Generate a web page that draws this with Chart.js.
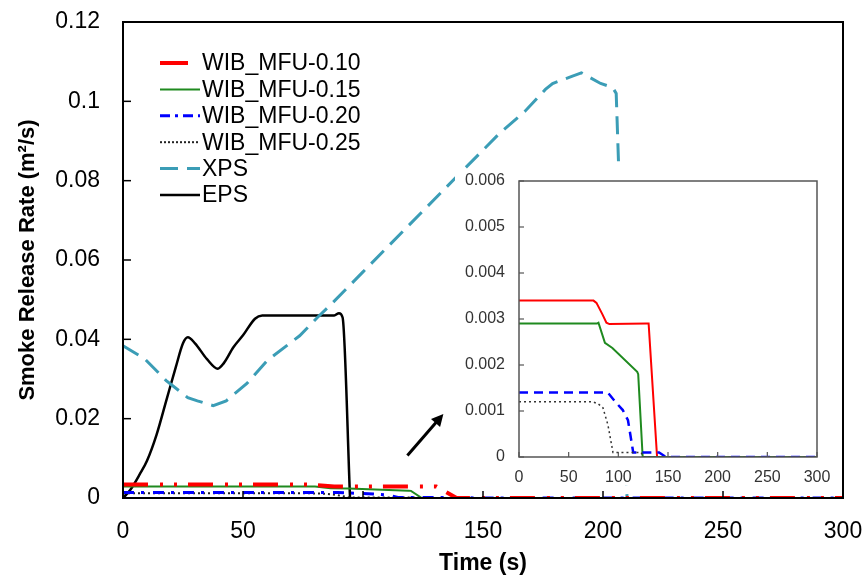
<!DOCTYPE html>
<html>
<head>
<meta charset="utf-8">
<script src="https://cdn.jsdelivr.net/npm/chart.js@4.4.0/dist/chart.umd.min.js"></script>
<style>
body { margin: 0; background: #fff; }
#wrap { position: relative; width: 867px; height: 577px; }
#main { position: absolute; left: 0; top: 0; }
#inset { position: absolute; left: 455px; top: 170px; background: #fff; }
</style>
</head>
<body>
<div id="wrap">
<canvas id="main" width="867" height="577"></canvas>
<canvas id="inset" width="380" height="315"></canvas>
</div>
<script>
// series names
const seriesNames = ['WIB_MFU-0.10', 'WIB_MFU-0.15', 'WIB_MFU-0.20', 'WIB_MFU-0.25', 'XPS', 'EPS'];

// time (s) and smoke release rate (m2/s)
const timeMfu10 = [0, 75, 78, 84, 88, 91, 129, 130.5, 139, 300];
const srrMfu10 = [0.0034, 0.0034, 0.00335, 0.0031, 0.00292, 0.00289, 0.0029, 0.0029, 0, 0];

const timeMfu15 = [0, 78.5, 80, 86.5, 94, 119, 120, 124.5, 300];
const srrMfu15 = [0.0029, 0.0029, 0.00292, 0.00248, 0.00237, 0.00185, 0.0018, 0, 0];

const timeMfu20 = [0, 89.5, 97, 104.5, 109.7, 115, 141, 148, 300];
const srrMfu20 = [0.0014, 0.0014, 0.0012, 0.00102, 0.0008, 0.0001, 0.0001, 0, 0];

const timeMfu25 = [0, 74.5, 80, 84.5, 89.5, 94.6, 123, 125, 300];
const srrMfu25 = [0.0012, 0.0012, 0.00115, 0.00107, 0.0007, 0.0001, 0.0001, 0, 0];

const timeXps = [0, 9, 18, 27, 31, 37.6, 43, 51.5, 60, 73.6, 81, 86, 100, 120, 140, 157, 167.5, 176, 179, 187, 191, 199, 204, 205.5, 206.5, 210];
const srrXps = [0.0384, 0.0351, 0.0296, 0.0253, 0.0245, 0.0233, 0.0245, 0.0288, 0.0346, 0.0409, 0.0455, 0.0484, 0.057, 0.0693, 0.0816, 0.092, 0.0975, 0.103, 0.1045, 0.1063, 0.1072, 0.1045, 0.1035, 0.102, 0.084, 0];

const timeEps = [0, 3, 7, 10, 14, 18, 22, 25, 27, 30, 35, 39.5, 42, 46, 50, 55, 58, 88, 90, 91.5, 94.6];
const srrEps = [0, 0.002, 0.006, 0.0094, 0.016, 0.0245, 0.033, 0.039, 0.0405, 0.039, 0.035, 0.0326, 0.034, 0.038, 0.041, 0.0452, 0.046, 0.046, 0.0466, 0.0455, 0];

// tick labels
const mainXTicks = [0, 50, 100, 150, 200, 250, 300];
const mainYTicks = [0, 0.02, 0.04, 0.06, 0.08, 0.1, 0.12];
const insetXTicks = [0, 50, 100, 150, 200, 250, 300];
const insetYTicks = [0, 0.001, 0.002, 0.003, 0.004, 0.005, 0.006];

function pts(t, v) {
    return t.map(function (x, i) { return { x: x, y: v[i] }; });
}

const RED = '#ff0000', GREEN = '#1f8a1f', BLUE = '#0000ff', TEAL = '#3b9db6';
const FONT = 'Arial, "Liberation Sans", sans-serif';

// grid used only to push tick labels away from the axis (ticks drawn by plugin)
function spacerGrid(len) {
    return { display: true, drawOnChartArea: false, drawTicks: true, tickLength: len, color: 'rgba(0,0,0,0)' };
}

var mainData = {
    datasets: [
        { label: seriesNames[0], data: pts(timeMfu10, srrMfu10), borderColor: RED, borderWidth: 4, borderDash: [25, 12, 3, 11, 3, 11] },
        { label: seriesNames[1], data: pts(timeMfu15, srrMfu15), borderColor: GREEN, borderWidth: 2 },
        { label: seriesNames[2], data: pts(timeMfu20, srrMfu20), borderColor: BLUE, borderWidth: 3, borderDash: [11, 7, 3, 9] },
        { label: seriesNames[3], data: pts(timeMfu25, srrMfu25), borderColor: '#222', borderWidth: 2, borderDash: [2, 3] },
        { label: seriesNames[4], data: pts(timeXps, srrXps), borderColor: TEAL, borderWidth: 3, borderDash: [18, 9] },
        { label: seriesNames[5], data: pts(timeEps, srrEps), borderColor: '#000', borderWidth: 2.5, cubicInterpolationMode: 'monotone' }
    ]
};

// legend, arrow, frame and inward ticks for the main plot
var mainDecor = {
    id: 'mainDecor',
    afterDraw: function (chart) {
        var ctx = chart.ctx, a = chart.chartArea;
        var sx = chart.scales.x, sy = chart.scales.y;
        ctx.save();
        ctx.strokeStyle = '#000';
        ctx.lineWidth = 1.5;
        mainXTicks.forEach(function (v) {
            var px = sx.getPixelForValue(v);
            ctx.beginPath(); ctx.moveTo(px, a.bottom); ctx.lineTo(px, a.bottom - 7); ctx.stroke();
        });
        mainYTicks.forEach(function (v) {
            var py = sy.getPixelForValue(v);
            ctx.beginPath(); ctx.moveTo(a.left, py); ctx.lineTo(a.left + 8, py); ctx.stroke();
        });
        ctx.lineWidth = 2;
        ctx.strokeRect(a.left, a.top, a.right - a.left, a.bottom - a.top);

        // arrow pointing at the inset
        var x0 = sx.getPixelForValue(118.5), y0 = sy.getPixelForValue(0.0107);
        var x1 = sx.getPixelForValue(133.5), y1 = sy.getPixelForValue(0.0212);
        var ang = Math.atan2(y1 - y0, x1 - x0);
        ctx.lineWidth = 3;
        ctx.beginPath(); ctx.moveTo(x0, y0);
        ctx.lineTo(x1 - 6 * Math.cos(ang), y1 - 6 * Math.sin(ang)); ctx.stroke();
        ctx.fillStyle = '#000';
        ctx.beginPath();
        ctx.moveTo(x1, y1);
        ctx.lineTo(x1 - 12 * Math.cos(ang) + 6 * Math.sin(ang), y1 - 12 * Math.sin(ang) - 6 * Math.cos(ang));
        ctx.lineTo(x1 - 12 * Math.cos(ang) - 6 * Math.sin(ang), y1 - 12 * Math.sin(ang) + 6 * Math.cos(ang));
        ctx.closePath(); ctx.fill();

        // legend
        var items = [
            { c: RED, w: 4, d: [], x0: 160, x1: 188 },
            { c: GREEN, w: 2, d: [], x0: 160, x1: 200 },
            { c: BLUE, w: 3, d: [10, 5, 3, 5], x0: 160, x1: 200 },
            { c: '#222', w: 2, d: [2, 2], x0: 160, x1: 199 },
            { c: TEAL, w: 3, d: [18, 9], x0: 160, x1: 200 },
            { c: '#000', w: 2.5, d: [], x0: 160, x1: 200 }
        ];
        ctx.font = '23px ' + FONT;
        ctx.textBaseline = 'middle';
        ctx.textAlign = 'left';
        items.forEach(function (it, i) {
            var y = 63 + i * 26.4;
            ctx.setLineDash(it.d);
            ctx.strokeStyle = it.c;
            ctx.lineWidth = it.w;
            ctx.beginPath(); ctx.moveTo(it.x0, y); ctx.lineTo(it.x1, y); ctx.stroke();
            ctx.setLineDash([]);
            ctx.fillStyle = '#000';
            ctx.fillText(seriesNames[i], 202, y + 1);
        });
        ctx.restore();
    }
};

new Chart(document.getElementById('main'), {
    type: 'line',
    data: mainData,
    options: {
        responsive: false,
        animation: false,
        layout: { padding: { top: 22, right: 24, left: 0, bottom: 0 } },
        elements: { point: { radius: 0 }, line: { tension: 0 } },
        plugins: { legend: { display: false }, tooltip: { enabled: false } },
        scales: {
            x: {
                type: 'linear', min: 0, max: 300,
                grid: spacerGrid(20),
                border: { display: false },
                ticks: { stepSize: 50, padding: 0, color: '#000', font: { family: FONT, size: 23 } },
                title: { display: true, text: 'Time (s)', color: '#000', font: { family: FONT, size: 23, weight: 'bold' }, padding: { top: 0, bottom: 0 } },
                afterFit: function (s) { s.height = 79; }
            },
            y: {
                min: 0, max: 0.12,
                grid: spacerGrid(23),
                border: { display: false },
                ticks: {
                    stepSize: 0.02, padding: 0, color: '#000', font: { family: FONT, size: 23 },
                    callback: function (v) { return String(Math.round(v * 100) / 100); }
                },
                title: { display: true, text: 'Smoke Release Rate (m\u00b2/s)', color: '#000', font: { family: FONT, size: 22, weight: 'bold' }, padding: { top: 15, bottom: 0 } },
                afterFit: function (s) { s.width = 123; }
            }
        }
    },
    plugins: [mainDecor]
});

// ---------- inset ----------
var insetDecor = {
    id: 'insetDecor',
    afterDraw: function (chart) {
        var ctx = chart.ctx, a = chart.chartArea;
        var sx = chart.scales.x, sy = chart.scales.y;
        ctx.save();
        ctx.strokeStyle = '#555';
        ctx.lineWidth = 1.2;
        insetXTicks.forEach(function (v) {
            var px = sx.getPixelForValue(v);
            ctx.beginPath(); ctx.moveTo(px, a.bottom); ctx.lineTo(px, a.bottom - 5); ctx.stroke();
        });
        insetYTicks.forEach(function (v) {
            var py = sy.getPixelForValue(v);
            ctx.beginPath(); ctx.moveTo(a.left, py); ctx.lineTo(a.left + 5, py); ctx.stroke();
        });
        ctx.lineWidth = 1.5;
        ctx.strokeRect(a.left, a.top, a.right - a.left, a.bottom - a.top);
        ctx.restore();
    }
};

new Chart(document.getElementById('inset'), {
    type: 'line',
    data: {
        datasets: [
            { label: seriesNames[3], data: pts(timeMfu25, srrMfu25), borderColor: '#333', borderWidth: 1.5, borderDash: [2, 3] },
            { label: seriesNames[2], data: pts(timeMfu20, srrMfu20), borderColor: BLUE, borderWidth: 2.5, borderDash: [9, 6] },
            { label: seriesNames[1], data: pts(timeMfu15, srrMfu15), borderColor: GREEN, borderWidth: 2 },
            { label: seriesNames[0], data: pts(timeMfu10, srrMfu10), borderColor: RED, borderWidth: 2 }
        ]
    },
    options: {
        responsive: false,
        animation: false,
        layout: { padding: { top: 11, right: 18, left: 0, bottom: 0 } },
        elements: { point: { radius: 0 }, line: { tension: 0 } },
        plugins: { legend: { display: false }, tooltip: { enabled: false } },
        scales: {
            x: {
                type: 'linear', min: 0, max: 300,
                grid: spacerGrid(11),
                border: { display: false },
                ticks: { stepSize: 50, padding: 0, color: '#333', font: { family: FONT, size: 16 } },
                afterFit: function (s) { s.height = 28; }
            },
            y: {
                min: 0, max: 0.006,
                grid: spacerGrid(14),
                border: { display: false },
                ticks: {
                    stepSize: 0.001, padding: 0, color: '#333', font: { family: FONT, size: 16 },
                    callback: function (v) { return String(Math.round(v * 1000) / 1000); }
                },
                afterFit: function (s) { s.width = 64; }
            }
        }
    },
    plugins: [insetDecor]
});
</script>
</body>
</html>
